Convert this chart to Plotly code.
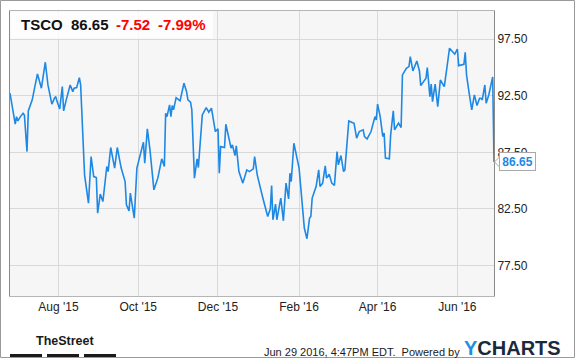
import plotly.graph_objects as go

# ---------------- data ----------------
dates = [
    "2015-06-25", "2015-06-29", "2015-06-30", "2015-07-01", "2015-07-03", "2015-07-05",
    "2015-07-06", "2015-07-08", "2015-07-09", "2015-07-12", "2015-07-14", "2015-07-16",
    "2015-07-19", "2015-07-22", "2015-07-24", "2015-07-27", "2015-07-29", "2015-07-30",
    "2015-07-31", "2015-08-02", "2015-08-04", "2015-08-05", "2015-08-07", "2015-08-10",
    "2015-08-12", "2015-08-13", "2015-08-15", "2015-08-17", "2015-08-18", "2015-08-21",
    "2015-08-24", "2015-08-26", "2015-08-28", "2015-08-30", "2015-08-31", "2015-09-02",
    "2015-09-04", "2015-09-05", "2015-09-07", "2015-09-08", "2015-09-10", "2015-09-13",
    "2015-09-15", "2015-09-18", "2015-09-21", "2015-09-22", "2015-09-24", "2015-09-25",
    "2015-09-26", "2015-09-28", "2015-09-30", "2015-10-02", "2015-10-05", "2015-10-06",
    "2015-10-07", "2015-10-08", "2015-10-10", "2015-10-13", "2015-10-16", "2015-10-19",
    "2015-10-21", "2015-10-22", "2015-10-23", "2015-10-25", "2015-10-26", "2015-10-27",
    "2015-10-28", "2015-10-30", "2015-11-02", "2015-11-03", "2015-11-05", "2015-11-07",
    "2015-11-08", "2015-11-10", "2015-11-11", "2015-11-13", "2015-11-15", "2015-11-16",
    "2015-11-19", "2015-11-22", "2015-11-24", "2015-11-26", "2015-11-29", "2015-12-01",
    "2015-12-02", "2015-12-03", "2015-12-06", "2015-12-07", "2015-12-09", "2015-12-11",
    "2015-12-12", "2015-12-14", "2015-12-15", "2015-12-17", "2015-12-20", "2015-12-23",
    "2015-12-25", "2015-12-28", "2015-12-29", "2015-12-31", "2016-01-04", "2016-01-06",
    "2016-01-08", "2016-01-10", "2016-01-11", "2016-01-12", "2016-01-14", "2016-01-15",
    "2016-01-18", "2016-01-20", "2016-01-22", "2016-01-24", "2016-01-25", "2016-01-26",
    "2016-01-28", "2016-02-01", "2016-02-03", "2016-02-05", "2016-02-07", "2016-02-09",
    "2016-02-10", "2016-02-11", "2016-02-14", "2016-02-16", "2016-02-17", "2016-02-19",
    "2016-02-21", "2016-02-22", "2016-02-24", "2016-02-26", "2016-02-28", "2016-03-01",
    "2016-03-02", "2016-03-04", "2016-03-06", "2016-03-07", "2016-03-10", "2016-03-14",
    "2016-03-16", "2016-03-18", "2016-03-21", "2016-03-22", "2016-03-24", "2016-03-27",
    "2016-03-30", "2016-03-31", "2016-04-01", "2016-04-03", "2016-04-05", "2016-04-06",
    "2016-04-07", "2016-04-10", "2016-04-11", "2016-04-13", "2016-04-14", "2016-04-17",
    "2016-04-19", "2016-04-20", "2016-04-23", "2016-04-25", "2016-04-26", "2016-04-28",
    "2016-05-01", "2016-05-03", "2016-05-04", "2016-05-08", "2016-05-09", "2016-05-11",
    "2016-05-12", "2016-05-13", "2016-05-15", "2016-05-17", "2016-05-19", "2016-05-22",
    "2016-05-24", "2016-05-26", "2016-05-30", "2016-06-01", "2016-06-02", "2016-06-06",
    "2016-06-07", "2016-06-08", "2016-06-10", "2016-06-12", "2016-06-14", "2016-06-16",
    "2016-06-18", "2016-06-19", "2016-06-20", "2016-06-22", "2016-06-23", "2016-06-25",
    "2016-06-28", "2016-06-29",
]
prices = [
    92.73, 89.99, 90.66, 90.28, 90.66, 90.96,
    90.81, 87.57, 91.17, 92.14, 93.31, 94.43,
    93.17, 95.47, 93.46, 91.76, 92.29, 92.43,
    91.99, 91.34, 93.31, 91.17, 92.14, 93.46,
    92.87, 93.17, 93.23, 94.11, 93.46, 85.51,
    83.01, 87.13, 85.36, 85.27, 82.13, 83.81,
    83.15, 84.34, 86.25, 85.80, 87.93, 86.11,
    87.93, 86.11, 84.92, 82.87, 82.33, 83.90,
    83.01, 81.69, 86.11, 86.99, 88.40, 86.55,
    88.52, 89.58, 87.72, 84.19, 85.22, 86.93,
    86.25, 90.96, 90.66, 91.70, 90.66, 91.64,
    91.26, 92.34, 92.05, 92.58, 93.61, 92.87,
    92.14, 91.94, 91.26, 85.22, 86.93, 86.16,
    90.81, 91.46, 91.05, 91.41, 89.34, 89.58,
    85.66, 88.01, 87.93, 89.99, 88.81, 87.87,
    88.16, 87.22, 88.07, 85.80, 84.78, 85.95,
    85.80, 86.04, 87.13, 85.51, 83.60, 82.57,
    81.83, 82.51, 84.57, 81.54, 82.92, 81.54,
    83.46, 81.45, 84.78, 83.39, 85.66, 84.92,
    88.31, 86.11, 83.75, 80.81, 79.86, 81.69,
    81.83, 83.46, 84.48, 85.95, 84.48, 84.78,
    86.31, 85.22, 85.57, 84.78, 84.57, 87.57,
    86.40, 87.22, 85.80, 85.95, 90.28, 90.08,
    88.76, 89.34, 89.49, 88.90, 88.69, 89.34,
    90.66, 90.37, 91.76, 90.66, 88.90, 89.20,
    86.99, 86.93, 89.05, 91.17, 89.49, 90.08,
    89.69, 94.35, 94.94, 95.08, 95.96, 94.70,
    95.58, 94.70, 93.40, 94.06, 94.99, 92.43,
    93.53, 91.99, 93.53, 91.55, 93.90, 93.31,
    94.99, 96.71, 96.18, 96.64, 95.17, 95.29,
    96.35, 94.35, 92.73, 91.26, 92.58, 91.64,
    92.29, 92.29, 92.14, 93.46, 91.85, 92.58,
    94.17, 86.65,
]
ytick_vals = [77.5, 82.5, 87.5, 92.5, 97.5]
ticker = "TSCO"
last_price = "86.65"
change_abs = "-7.52"
change_pct = "-7.99%"
timestamp = "Jun 29 2016, 4:47PM EDT.  Powered by"

# ---------------- layout helpers ----------------
W, H = 575, 358
L, R, T, B = 10, 81, 11, 62
PW, PH = W - L - R, H - T - B


def px(x):
    return (x - L) / PW


def py(y):
    return 1 - (y - T) / PH


BLUE = "#1e88e5"
RED = "#ff0000"
FONT = "Liberation Sans, Arial, sans-serif"

fig = go.Figure()
fig.add_trace(go.Scatter(
    x=dates, y=prices, mode="lines",
    line=dict(color=BLUE, width=1.6),
    hoverinfo="x+y", showlegend=False,
))

shapes = [
    # outer frame
    dict(type="rect", xref="paper", yref="paper",
         x0=px(0.5), x1=px(574.5), y0=py(0.5), y1=py(357.5),
         line=dict(color="#9a9a9a", width=1)),
    # title box
    dict(type="rect", xref="paper", yref="paper",
         x0=px(10.5), x1=px(213), y0=py(11.5), y1=py(38.5),
         fillcolor="rgba(255,255,255,0.8)", line=dict(width=0), layer="above"),
    # notch of the last-value callout
    dict(type="path", xref="paper", yref="y",
         xsizemode="pixel", ysizemode="pixel",
         xanchor=1, yanchor=prices[-1],
         path="M 0.5 0 L 5.5 5 L 5.5 -5 Z",
         fillcolor="white", line=dict(color="#a8a8a8", width=1), layer="above"),
]
# TheStreet bars
for x0, x1 in [(10, 42), (47, 79), (84, 116)]:
    shapes.append(dict(type="rect", xref="paper", yref="paper",
                       x0=px(x0), x1=px(x1), y0=py(357), y1=py(354),
                       fillcolor="#1a1a1a", line=dict(width=0)))


def label(x, y, text, size, color, anchor="left", family=FONT):
    return dict(xref="paper", yref="paper", x=px(x), y=py(y), xanchor=anchor, yanchor="middle",
                showarrow=False, text=text, borderpad=0, borderwidth=0,
                font=dict(family=family, size=size, color=color))


annotations = [
    label(21, 24.5, f"<b>{ticker}</b>", 15, "#111111"),
    label(71, 24.5, f"<b>{last_price}</b>", 15, "#111111"),
    label(116, 24.5, f"<b>{change_abs}</b>", 15, RED),
    label(157.5, 24.5, f"<b>{change_pct}</b>", 15, RED),
    # last-value callout box
    dict(xref="paper", yref="y", x=px(499), y=prices[-1], xanchor="left", yanchor="middle",
         showarrow=False, text=f"<b>{last_price}</b>",
         width=33, height=15, borderpad=1, align="center",
         bgcolor="white", bordercolor="#a8a8a8", borderwidth=1,
         font=dict(family=FONT, size=12, color=BLUE)),
    label(36, 341, "<b>TheStreet</b>", 12.5, "#1a1a1a"),
    label(460, 351.5, timestamp, 11, "#1a1a1a", anchor="right"),
    label(464, 348, "<b><span style='color:#1e8fe6'>Y</span>CHARTS</b>", 20, "#1b2a3b"),
]

fig.update_layout(
    width=W, height=H,
    margin=dict(l=L, r=R, t=T, b=B, pad=0),
    paper_bgcolor="white",
    plot_bgcolor="#f6f6f6",
    font=dict(family=FONT, size=12, color="#222222"),
    shapes=shapes,
    annotations=annotations,
    xaxis=dict(
        type="date",
        range=["2015-06-25", "2016-06-29"],
        tick0="2015-08-01", dtick="M2", tickformat="%b '%y",
        showgrid=True, gridcolor="#d9d9d9", gridwidth=1,
        showline=True, mirror=True, linecolor="#b5b5b5", linewidth=1,
        ticks="", zeroline=False, fixedrange=True,
        tickfont=dict(family=FONT, size=12, color="#222222"),
    ),
    yaxis=dict(
        side="right",
        range=[74.8, 100],
        tickvals=ytick_vals, tickformat=".2f",
        showgrid=True, gridcolor="#d9d9d9", gridwidth=1,
        showline=True, mirror=True, linecolor="#8a8a8a", linewidth=1,
        ticks="", zeroline=False, fixedrange=True,
        tickfont=dict(family=FONT, size=12, color="#222222"),
    ),
)

fig.write_html(
    "out.html",
    include_plotlyjs=True,
    config={"displayModeBar": False},
    post_script="document.body.style.margin='0';document.body.style.overflow='hidden';",
)
